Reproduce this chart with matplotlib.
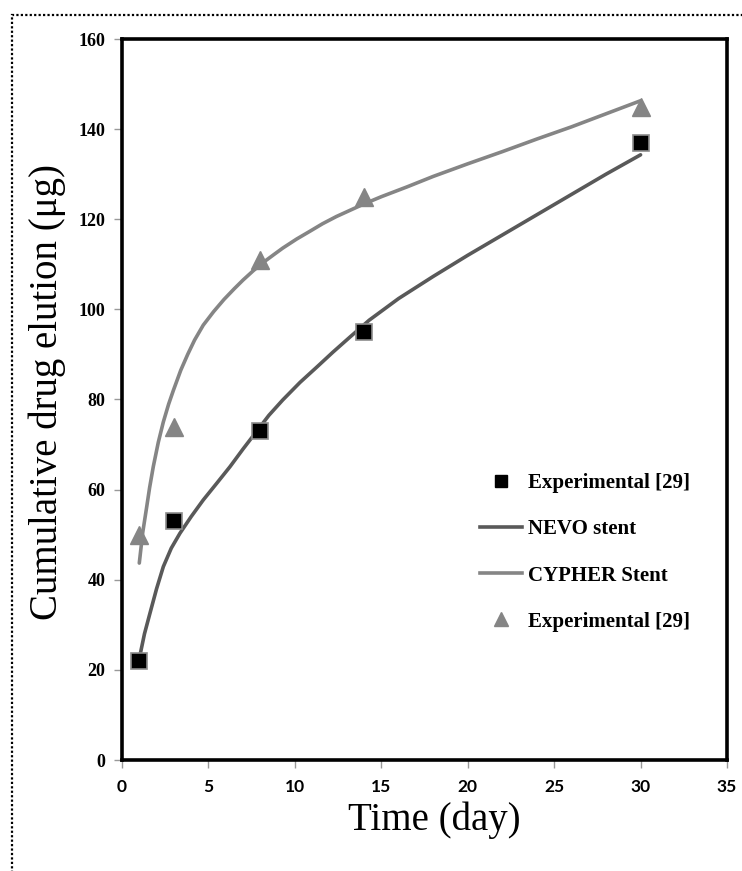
import matplotlib.pyplot as plt
from matplotlib.patches import Rectangle
from matplotlib.lines import Line2D

# experimental points
exp_day = [1, 3, 8, 14, 30]
nevo_exp = [22, 53, 73, 95, 137]
cypher_exp = [50, 74, 111, 125, 145]

# model curves
nevo_day = [1, 1.3, 1.62, 2.0, 2.39, 2.85, 3.35, 4.0, 4.7, 5.5, 6.25, 7.0, 7.8, 8.5, 9.3,
            10.3, 11.3, 12.2, 13.2, 14.3, 16, 18, 20, 22, 24, 26, 28, 30]
nevo_val = [22.5, 28, 32.6, 38, 42.9, 47, 50.3, 54, 57.7, 61.5, 65.1, 69, 73, 76.5, 79.9,
            83.8, 87.3, 90.5, 93.9, 97.6, 102.4, 107.3, 112, 116.5, 121, 125.5, 130, 134.3]
cypher_day = [1, 1.2, 1.43, 1.6, 1.81, 2.1, 2.39, 2.7, 2.97, 3.4, 3.8, 4.2, 4.7, 5.3, 5.9,
              6.5, 7.0, 7.6, 8.2, 8.8, 9.3, 10.1, 10.9, 11.6, 12.4, 13.2, 14, 15, 16.5,
              18, 20, 22, 24, 26, 28, 30]
cypher_val = [43.7, 50.5, 56.2, 60.5, 65.1, 70.5, 75, 79, 82, 86.5, 90, 93.2, 96.5, 99.5, 102.2,
              104.6, 106.5, 108.6, 110.5, 112.2, 113.6, 115.6, 117.4, 119.0, 120.6, 122, 123.4,
              125, 127.2, 129.5, 132.3, 135, 137.8, 140.5, 143.4, 146.3]

xticks = [0, 5, 10, 15, 20, 25, 30, 35]
yticks = [0, 20, 40, 60, 80, 100, 120, 140, 160]
labels = ['Experimental [29]', 'NEVO stent', 'CYPHER Stent', 'Experimental [29]']

serif = 'Liberation Serif'
sans = 'Lato'
dark = '#595959'
light = '#858585'

fig = plt.figure(figsize=(7.42, 8.71), dpi=100)
ax = fig.add_axes([122/742, 111/871, 605/742, 721/871])

ax.plot(nevo_day, nevo_val, color=dark, lw=2.6, solid_capstyle='round', solid_joinstyle='round', zorder=2)
ax.plot(cypher_day, cypher_val, color=light, lw=2.6, solid_capstyle='round', solid_joinstyle='round', zorder=2)
ax.plot(exp_day, nevo_exp, ls='none', marker='s', ms=11, mfc='black', mec='#8c8c8c', mew=1.2, zorder=3)
ax.plot(exp_day, cypher_exp, ls='none', marker='^', ms=13, mfc=light, mec=light, zorder=3)

ax.set_xlim(0, 35)
ax.set_ylim(0, 160)
ax.set_xticks(xticks)
ax.set_yticks(yticks)
for s in ax.spines.values():
    s.set_linewidth(2.6)
    s.set_color('black')
ax.tick_params(axis='both', direction='out', length=6, width=1, color='#999999')
ax.tick_params(axis='x', pad=8)
ax.tick_params(axis='y', pad=6)
for t in ax.get_xticklabels():
    t.set_fontfamily(sans)
    t.set_fontweight('bold')
    t.set_fontsize(12.5)
for t in ax.get_yticklabels():
    t.set_fontfamily(serif)
    t.set_fontweight('bold')
    t.set_fontsize(13)

ax.set_xlabel('Time (day)', fontfamily=serif, fontsize=28)
ax.set_ylabel('Cumulative drug elution (μg)', fontfamily=serif, fontsize=28)
ax.xaxis.set_label_coords(0.517, -0.058)
ax.yaxis.set_label_coords(-0.092, 0.51)

handles = [
    Line2D([], [], ls='none', marker='s', ms=9, mfc='black', mec='black'),
    Line2D([], [], color=dark, lw=2.6),
    Line2D([], [], color=light, lw=2.6),
    Line2D([], [], ls='none', marker='^', ms=10, mfc=light, mec=light),
]
ax.legend(handles, labels, loc='upper left', bbox_to_anchor=(0.578, 0.409), frameon=False,
          prop={'family': serif, 'weight': 'bold', 'size': 15}, handlelength=2.0,
          handletextpad=0.3, labelspacing=1.25, borderaxespad=0)

# dotted frame round the figure
fig.patches.append(Rectangle((12/742, -0.02), 1.0, 1 - 15/871 + 0.02, transform=fig.transFigure,
                             fill=False, ls=(0, (1, 1)), lw=1.6, color='black'))

plt.savefig('out.png', dpi=100)
